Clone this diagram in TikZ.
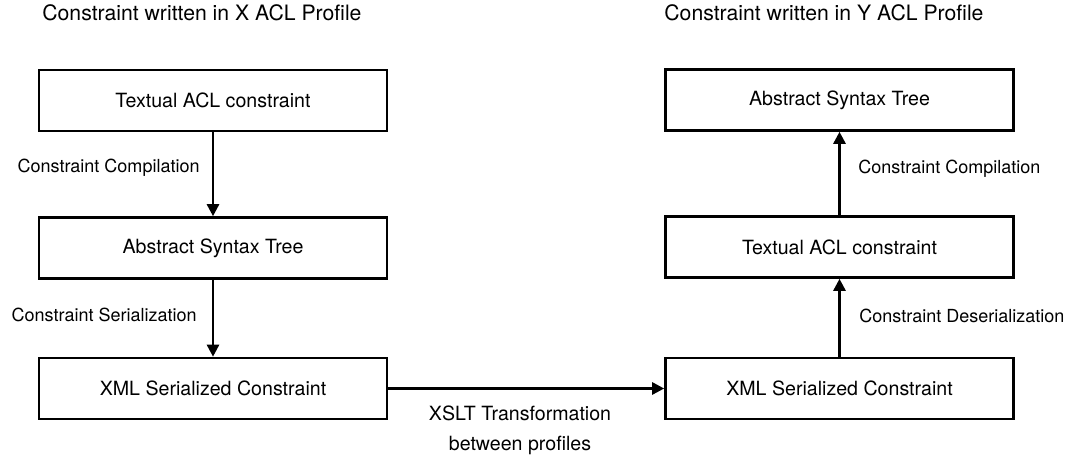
\documentclass[tikz,border=0pt]{standalone}
\usepackage{fontspec}
\setmainfont{TeX Gyre Heros}
\usetikzlibrary{arrows.meta}

\begin{document}
\begin{tikzpicture}[x=0.5pt, y=-0.5pt,
    box/.style={draw=black, line width=1.3pt, minimum width=174pt, minimum height=30.5pt, inner sep=0pt, font=\fontsize{9.8}{12}\selectfont},
    lbl/.style={inner sep=0pt, font=\fontsize{9}{11}\selectfont},
    ttl/.style={inner sep=0pt, anchor=base west, font=\fontsize{10.6}{13}\selectfont},
    flow/.style={line width=1.3pt, -{Triangle[length=6pt, width=6pt]}}]
        \useasboundingbox (0,0) rectangle (1065,458);
        %headings
        \node[ttl] (hx) at (42, 21)     {Constraint written in X ACL Profile};
        \node[ttl] (hy) at (664, 21)    {Constraint written in Y ACL Profile};
        %X profile side
        \node[box] (xtext) at (213, 100.5)    {Textual ACL constraint};
        \node[box] (xast) at (213, 248)       {Abstract Syntax Tree};
        \node[box] (xxml) at (213, 388.5)     {XML Serialized Constraint};
        %Y profile side
        \node[box] (yast) at (839.5, 100)     {Abstract Syntax Tree};
        \node[box] (ytext) at (839.5, 247)    {Textual ACL constraint};
        \node[box] (yxml) at (839.5, 388.5)   {XML Serialized Constraint};
        %step names
        \node[lbl, anchor=east] (xcomp) at (200, 168)     {Constraint Compilation};
        \node[lbl, anchor=east] (xser) at (197, 315)      {Constraint Serialization};
        \node[lbl, anchor=west] (ycomp) at (858, 169)     {Constraint Compilation};
        \node[lbl, anchor=west] (ydeser) at (859, 316)    {Constraint Deserialization};
        \node[lbl, align=center, font=\fontsize{9.8}{15}\selectfont] (xslt) at (520, 430) {XSLT Transformation\\between profiles};
        %connections
        \path[flow] (xtext) edge (xast);
        \path[flow] (xast) edge (xxml);
        \path[flow] (xxml) edge (yxml);
        \path[flow] (yxml) edge (ytext);
        \path[flow] (ytext) edge (yast);
    \end{tikzpicture}
\end{document}
